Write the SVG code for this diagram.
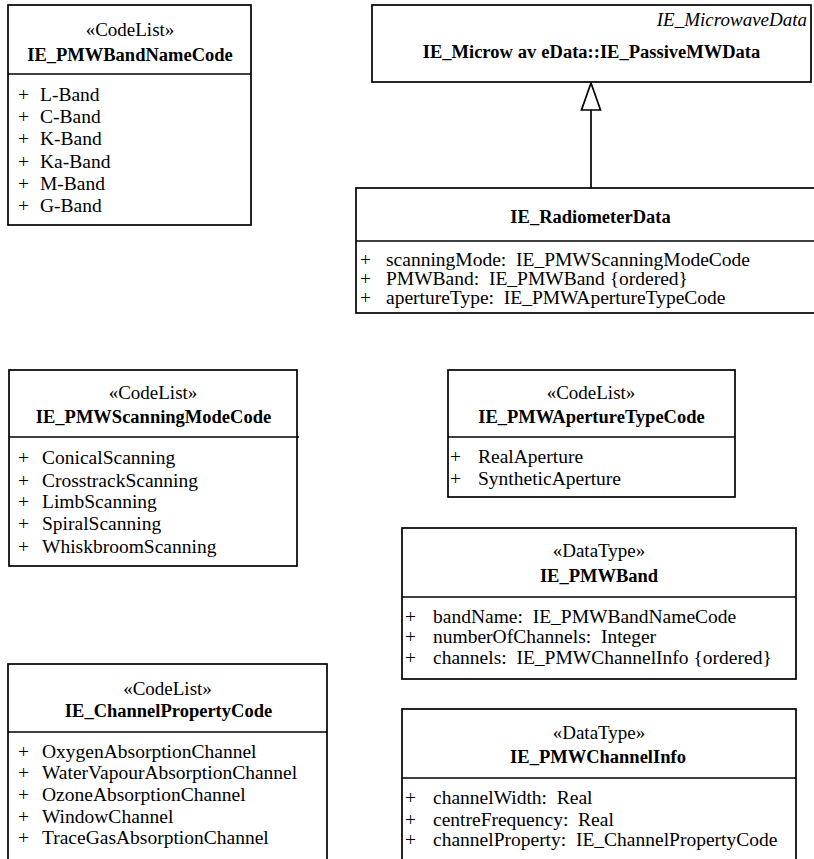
<svg xmlns="http://www.w3.org/2000/svg" width="814" height="859" viewBox="0 0 814 859">
<style>
.box{fill:#fff;stroke:#000;stroke-width:1.7}
.ln{stroke:#000;stroke-width:1.7;fill:none}
text{font-family:"Liberation Serif","Times New Roman",serif;fill:#000;white-space:pre}
.st{font-size:19px;text-anchor:middle}
.ti{font-size:18.5px;font-weight:bold;text-anchor:middle}
.at{font-size:19.5px}
.it{font-size:19px;font-style:italic;text-anchor:end}
</style>
<rect width="814" height="859" fill="#fff"/>
<g id="connectors">
<line class="ln" x1="591" y1="188" x2="591" y2="110"/>
<polygon class="ln" points="591,83 581.5,110 600.5,110" fill="#fff"/>
</g>
<g id="IE_PMWBandNameCode">
<rect class="box" x="8" y="5" width="243" height="220"/>
<line class="ln" x1="8" y1="74" x2="251" y2="74"/>
<text class="st" x="130" y="36">«CodeList»</text>
<text class="ti" x="130" y="61">IE_PMWBandNameCode</text>
<g class="at">
<text x="18" y="101">+</text><text x="40" y="101">L-Band</text>
<text x="18" y="123">+</text><text x="40" y="123">C-Band</text>
<text x="18" y="145">+</text><text x="40" y="145">K-Band</text>
<text x="18" y="168">+</text><text x="40" y="168">Ka-Band</text>
<text x="18" y="190">+</text><text x="40" y="190">M-Band</text>
<text x="18" y="212">+</text><text x="40" y="212">G-Band</text>
</g>
</g>
<g id="IE_PassiveMWData">
<rect class="box" x="372" y="5" width="439" height="77"/>
<text class="it" x="807" y="26">IE_MicrowaveData</text>
<text class="ti" x="591.5" y="58">IE_Microw<tspan dx="5">av</tspan><tspan dx="5">eData::IE_PassiveMWData</tspan></text>
</g>
<g id="IE_RadiometerData">
<rect class="box" x="356" y="188" width="470" height="125"/>
<line class="ln" x1="356" y1="241" x2="814" y2="241"/>
<text class="ti" x="590.5" y="223">IE_RadiometerData</text>
<g class="at">
<text x="360" y="266">+</text><text x="386" y="266">scanningMode:  IE_PMWScanningModeCode</text>
<text x="360" y="285">+</text><text x="386" y="285">PMWBand:  IE_PMWBand {ordered}</text>
<text x="360" y="304">+</text><text x="386" y="304">apertureType:  IE_PMWApertureTypeCode</text>
</g>
</g>
<g id="IE_PMWScanningModeCode">
<rect class="box" x="9" y="370" width="288" height="196"/>
<line class="ln" x1="9" y1="437" x2="299" y2="437"/>
<text class="st" x="153" y="399">«CodeList»</text>
<text class="ti" x="153.5" y="423">IE_PMWScanningModeCode</text>
<g class="at">
<text x="18" y="464">+</text><text x="42" y="464">ConicalScanning</text>
<text x="18" y="487">+</text><text x="42" y="487">CrosstrackScanning</text>
<text x="18" y="508">+</text><text x="42" y="508">LimbScanning</text>
<text x="18" y="530">+</text><text x="42" y="530">SpiralScanning</text>
<text x="18" y="553">+</text><text x="42" y="553">WhiskbroomScanning</text>
</g>
</g>
<g id="IE_PMWApertureTypeCode">
<rect class="box" x="448" y="370" width="287" height="127"/>
<line class="ln" x1="448" y1="437" x2="735" y2="437"/>
<text class="st" x="591" y="399">«CodeList»</text>
<text class="ti" x="591.5" y="423">IE_PMWApertureTypeCode</text>
<g class="at">
<text x="450" y="463">+</text><text x="478" y="463">RealAperture</text>
<text x="450" y="485">+</text><text x="478" y="485">SyntheticAperture</text>
</g>
</g>
<g id="IE_PMWBand">
<rect class="box" x="402" y="528" width="394" height="151"/>
<line class="ln" x1="402" y1="597" x2="796" y2="597"/>
<text class="st" x="599" y="557">«DataType»</text>
<text class="ti" x="599" y="582">IE_PMWBand</text>
<g class="at">
<text x="405" y="623">+</text><text x="433" y="623">bandName:  IE_PMWBandNameCode</text>
<text x="405" y="643">+</text><text x="433" y="643">numberOfChannels:  Integer</text>
<text x="405" y="664">+</text><text x="433" y="664">channels:  IE_PMWChannelInfo {ordered}</text>
</g>
</g>
<g id="IE_ChannelPropertyCode">
<rect class="box" x="8" y="664" width="319" height="210"/>
<line class="ln" x1="8" y1="732" x2="327" y2="732"/>
<text class="st" x="167.5" y="695">«CodeList»</text>
<text class="ti" x="168.5" y="717">IE_ChannelPropertyCode</text>
<g class="at">
<text x="18" y="758">+</text><text x="42" y="758">OxygenAbsorptionChannel</text>
<text x="18" y="779">+</text><text x="42" y="779">WaterVapourAbsorptionChannel</text>
<text x="18" y="801">+</text><text x="42" y="801">OzoneAbsorptionChannel</text>
<text x="18" y="823">+</text><text x="42" y="823">WindowChannel</text>
<text x="18" y="844">+</text><text x="42" y="844">TraceGasAbsorptionChannel</text>
</g>
</g>
<g id="IE_PMWChannelInfo">
<rect class="box" x="402" y="709" width="394" height="170"/>
<line class="ln" x1="402" y1="778" x2="796" y2="778"/>
<text class="st" x="599" y="739">«DataType»</text>
<text class="ti" x="598" y="763">IE_PMWChannelInfo</text>
<g class="at">
<text x="405" y="804">+</text><text x="433" y="804">channelWidth:  Real</text>
<text x="405" y="826">+</text><text x="433" y="826">centreFrequency:  Real</text>
<text x="405" y="846">+</text><text x="433" y="846">channelProperty:  IE_ChannelPropertyCode</text>
</g>
</g>
</svg>
